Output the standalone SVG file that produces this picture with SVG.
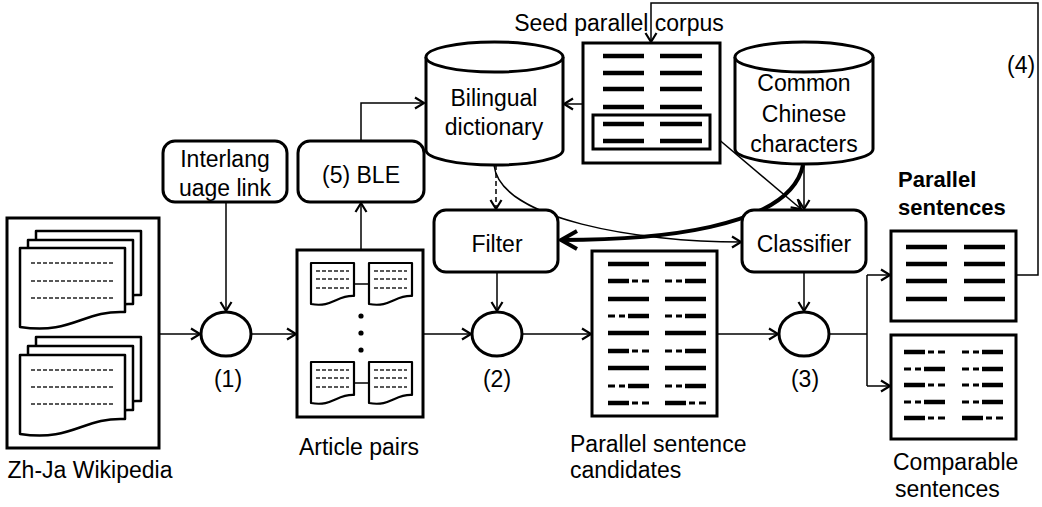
<svg xmlns="http://www.w3.org/2000/svg" width="1042" height="507" viewBox="0 0 1042 507">
<style>
text{font-family:"Liberation Sans",Arial,sans-serif;font-size:23px;fill:#000}
.m{text-anchor:middle}
.b{font-weight:bold;font-size:22px}
.box{fill:#fff;stroke:#000;stroke-width:3}
.doc{fill:#fff;stroke:#000;stroke-width:2.5;stroke-linejoin:round}
.sdoc{fill:#fff;stroke:#000;stroke-width:2.2;stroke-linejoin:round}
.dl{stroke:#222;stroke-width:1.5;stroke-dasharray:4,2;fill:none}
.c{fill:none;stroke:#000;stroke-width:1.5}
.s{stroke:#000;stroke-width:4.5;fill:none}
.d{stroke:#000;stroke-width:3;fill:none}
</style>
<defs>
<marker id="a" markerUnits="userSpaceOnUse" markerWidth="14" markerHeight="14" refX="11" refY="7" orient="auto"><path d="M2,1.5 L11,7 L2,12.5" fill="none" stroke="#000" stroke-width="2.2"/></marker>
<marker id="t" markerUnits="userSpaceOnUse" markerWidth="24" markerHeight="24" refX="20" refY="12" orient="auto"><path d="M4,3 L20,12 L4,21" fill="none" stroke="#000" stroke-width="4"/></marker>
</defs>

<g id="connectors">
<path class="c" d="M159,334 H200" marker-end="url(#a)"/>
<path class="c" d="M251,334 H296" marker-end="url(#a)"/>
<path class="c" d="M226,202 V311" marker-end="url(#a)"/>
<path class="c" d="M361,250 V203" marker-end="url(#a)"/>
<path class="c" d="M361,141 V103 H424" marker-end="url(#a)"/>
<path class="c" d="M423,334 H471" marker-end="url(#a)"/>
<path class="c" d="M522,334 H591" marker-end="url(#a)"/>
<path class="c" d="M717,334 H778" marker-end="url(#a)"/>
<path class="c" d="M829,334 H867 M867,275 V386"/>
<path class="c" d="M867,275 H890" marker-end="url(#a)"/>
<path class="c" d="M867,386 H890" marker-end="url(#a)"/>
<path class="c" d="M1016,275 H1038 V3 H651 V42" marker-end="url(#a)"/>
<path class="c" d="M583,104 H564" marker-end="url(#a)"/>
<path class="c" d="M496,165 V209" stroke-dasharray="5,3" marker-end="url(#a)"/>
<path class="c" d="M497,272 V311" marker-end="url(#a)"/>
<path class="c" d="M494,165 C500,220 640,242 741,242" marker-end="url(#a)"/>
<path class="c" d="M804,164 V209" marker-end="url(#a)"/>
<path class="c" d="M710,132 L801,209" marker-end="url(#a)"/>
<path class="c" d="M804,272 V311" marker-end="url(#a)"/>
<path fill="none" stroke="#000" stroke-width="4" d="M803,165 C790,230 650,240 561,240" marker-end="url(#t)"/>
</g>

<g id="wikipedia">
<rect class="box" x="7" y="218" width="152" height="230"/>
<path class="doc" d="M36,231 H141 V295 C99,293 88.5,318 36,310 Z"/>
<path class="doc" d="M28,240 H133 V304 C91,302 80.5,327 28,319 Z"/>
<path class="doc" d="M20,248 H125 V312 C83,310 72.5,335 20,327 Z"/>
<path class="dl" d="M31,263 H114 M31,281 H114 M31,298 H114"/>
<path class="doc" d="M36,337 H141 V401 C99,399 88.5,424 36,416 Z"/>
<path class="doc" d="M28,346 H133 V410 C91,408 80.5,433 28,425 Z"/>
<path class="doc" d="M20,355 H125 V419 C83,417 72.5,442 20,434 Z"/>
<path class="dl" d="M31,370 H114 M31,387 H114 M31,404 H114"/>
<text class="m" x="90" y="478">Zh-Ja Wikipedia</text>
</g>

<g id="interlanguage">
<rect class="box" x="163" y="141" width="124" height="61" rx="12"/>
<text class="m" x="225" y="167">Interlang</text>
<text class="m" x="225" y="196">uage link</text>
</g>

<g id="op1">
<ellipse class="box" cx="226" cy="334" rx="25" ry="22"/>
<text class="m" x="228" y="387">(1)</text>
</g>

<g id="article-pairs">
<rect class="box" x="297" y="250" width="126" height="167"/>
<path class="c" d="M354,284 H369 M354,383 H369"/>
<path class="sdoc" d="M311,263 H354 V296 C337,295 332,308 311,304 Z"/>
<path class="sdoc" d="M369,263 H412 V296 C395,295 390,308 369,304 Z"/>
<path class="sdoc" d="M311,362 H354 V395 C337,394 332,407 311,403 Z"/>
<path class="sdoc" d="M369,362 H412 V395 C395,394 390,407 369,403 Z"/>
<path class="dl" d="M316,271 H349 M316,279 H349 M316,288 H349 M374,271 H407 M374,279 H407 M374,288 H407 M316,370 H349 M316,378 H349 M316,387 H349 M374,370 H407 M374,378 H407 M374,387 H407"/>
<circle cx="361" cy="316" r="2.6"/>
<circle cx="361" cy="333" r="2.6"/>
<circle cx="361" cy="350" r="2.6"/>
<text class="m" x="359" y="455">Article pairs</text>
</g>

<g id="ble">
<rect class="box" x="298" y="141" width="126" height="61" rx="12"/>
<text class="m" x="361" y="183">(5) BLE</text>
</g>

<g id="bilingual-dictionary">
<path class="box" d="M426,57 V150 A68.5,15 0 0 0 563,150 V57"/>
<ellipse class="box" cx="494.5" cy="57" rx="68.5" ry="15"/>
<text class="m" x="494" y="106">Bilingual</text>
<text class="m" x="494" y="135">dictionary</text>
</g>

<g id="seed-corpus">
<text class="m" x="619" y="31">Seed parallel corpus</text>
<rect class="box" x="583" y="43" width="137" height="120"/>
<rect class="box" x="593" y="115" width="117" height="34"/>
<path class="s" d="M603,56 H644 M660,56 H702 M603,73 H644 M660,73 H702 M603,89 H644 M660,89 H702 M603,107 H644 M660,107 H702 M603,124 H644 M660,124 H702 M603,141 H644 M660,141 H702"/>
</g>

<g id="common-chinese-characters">
<path class="box" d="M735,57 V149 A69,15 0 0 0 873,149 V57"/>
<ellipse class="box" cx="804" cy="57" rx="69" ry="15"/>
<text class="m" x="804" y="91">Common</text>
<text class="m" x="804" y="122">Chinese</text>
<text class="m" x="804" y="152">characters</text>
</g>

<text x="1007" y="73">(4)</text>

<g id="filter">
<rect class="box" x="434" y="210" width="124" height="62" rx="12"/>
<text class="m" x="497" y="252">Filter</text>
</g>

<g id="op2">
<ellipse class="box" cx="497" cy="334" rx="25" ry="22"/>
<text class="m" x="497" y="387">(2)</text>
</g>

<g id="candidates">
<rect class="box" x="592" y="251" width="125" height="165"/>
<path class="s" d="M608,264H649 M665,264H706 M608,281H629 M685,281H706 M608,299H649 M665,299H706 M628,316H649 M685,316H706 M608,333H649 M665,333H706 M608,351H629 M685,351H706 M608,368H649 M665,368H706 M628,386H649 M685,386H706 M608,403H629 M665,403H686"/>
<path class="d" d="M632,281H638 M642,281H649 M665,281H672 M676,281H682 M608,316H615 M619,316H625 M665,316H672 M676,316H682 M632,351H638 M642,351H649 M665,351H672 M676,351H682 M608,386H615 M619,386H625 M665,386H672 M676,386H682 M632,403H638 M642,403H649 M689,403H695 M699,403H706"/>
<text x="570" y="452">Parallel sentence</text>
<text x="570" y="478">candidates</text>
</g>

<g id="classifier">
<rect class="box" x="742" y="210" width="124" height="62" rx="12"/>
<text class="m" x="804" y="252">Classifier</text>
</g>

<g id="op3">
<ellipse class="box" cx="804" cy="334" rx="25" ry="22"/>
<text class="m" x="805" y="387">(3)</text>
</g>

<g id="parallel-sentences">
<text class="b" x="898" y="187">Parallel</text>
<text class="b" x="898" y="215">sentences</text>
<rect class="box" x="891" y="231" width="125" height="90"/>
<path class="s" d="M906,247H947 M964,247H1005 M906,264H947 M964,264H1005 M906,281H947 M964,281H1005 M906,299H947 M964,299H1005"/>
</g>

<g id="comparable-sentences">
<rect class="box" x="891" y="335" width="125" height="104"/>
<path class="s" d="M904,352H925 M982,352H1003 M924,369H945 M982,369H1003 M904,385H925 M982,385H1003 M924,402H945 M982,402H1003 M904,418H925 M962,418H983"/>
<path class="d" d="M928,352H934 M938,352H945 M962,352H969 M973,352H979 M904,369H911 M915,369H921 M962,369H969 M973,369H979 M928,385H934 M938,385H945 M962,385H969 M973,385H979 M904,402H911 M915,402H921 M962,402H969 M973,402H979 M928,418H934 M938,418H945 M986,418H992 M996,418H1003"/>
<text x="893" y="470">Comparable</text>
<text x="895" y="497">sentences</text>
</g>
</svg>
